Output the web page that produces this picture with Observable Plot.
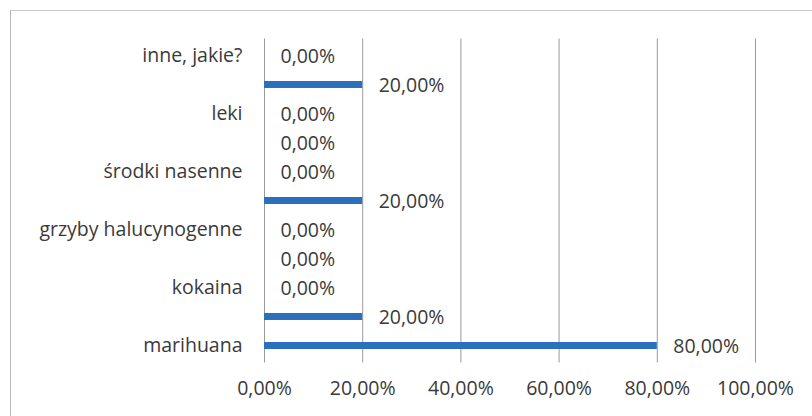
<!DOCTYPE html>
<html>
<head>
<meta charset="utf-8">
<script src="https://cdn.jsdelivr.net/npm/d3@7"></script>
<script src="https://cdn.jsdelivr.net/npm/@observablehq/plot@0.6"></script>
<style>
  html, body { margin: 0; padding: 0; background: #fff; }
  #wrap { position: relative; width: 812px; height: 416px; overflow: hidden; }
  #frame { position: absolute; left: 10px; top: 10px; width: 900px; height: 500px;
           border-left: 1.5px solid #b8b8b8; border-top: 1.5px solid #c8c8c8; }
  #chart { position: absolute; left: 0; top: 0; }
</style>
</head>
<body>
<div id="wrap"><div id="frame"></div><div id="chart"></div></div>
<script>
// Categories from bottom to top (every other label is hidden in the original)
const categories = ["marihuana", "", "kokaina", "", "grzyby halucynogenne", "", "środki nasenne", "", "leki", "", "inne, jakie?"];
const values = [80, 20, 0, 0, 0, 20, 0, 0, 0, 20, 0];
const xTicks = [0, 20, 40, 60, 80, 100];

const data = categories.map((c, i) => ({idx: i, name: c, value: values[i]}));
const fmt = v => v.toFixed(2).replace(".", ",") + "%";
const font = "'Open Sans', sans-serif";
const fs = 19.5;

const chart = Plot.plot({
  width: 812,
  height: 416,
  marginLeft: 264,
  marginRight: 57,
  marginTop: 38.5,
  marginBottom: 53.5,
  style: {fontFamily: font, fontSize: fs + "px", color: "#3a3a3a", background: "transparent"},
  x: {domain: [0, 100], ticks: xTicks, tickFormat: fmt, tickSize: 0, tickPadding: 18, label: null},
  y: {domain: d3.range(categories.length).reverse(), tickFormat: i => categories[i], tickSize: 0, tickPadding: 22, label: null, paddingInner: 0.76, paddingOuter: 0.38},
  marks: [
    Plot.ruleX(xTicks, {stroke: "#9a9a9a", strokeWidth: 1}),
    Plot.barX(data, {x: "value", y: "idx", fill: "#2b6fbd"}),
    Plot.text(data, {x: "value", y: "idx", text: d => fmt(d.value), textAnchor: "start", dx: 16, dy: 1, fill: "#3a3a3a", fontSize: fs})
  ]
});
document.getElementById("chart").appendChild(chart);
</script>
</body>
</html>
